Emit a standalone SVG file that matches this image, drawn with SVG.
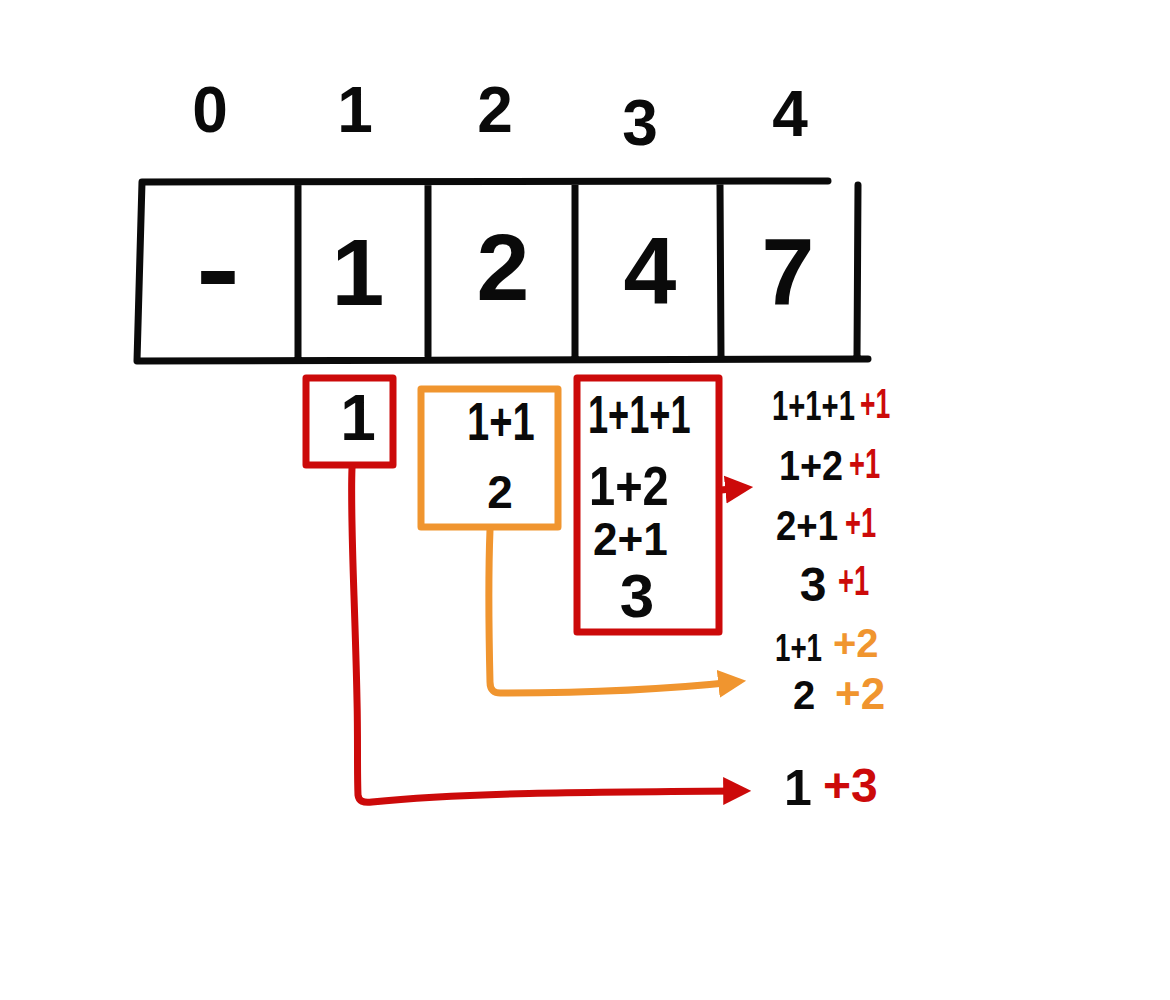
<svg xmlns="http://www.w3.org/2000/svg" width="1170" height="1000" viewBox="0 0 1170 1000">
<style>
text{font-family:"Liberation Sans","DejaVu Sans",sans-serif;font-weight:bold;}
.k{fill:#0a0a0a}
.r{fill:#cc0a0a}
.o{fill:#f0952f}
.ln{fill:none;stroke:#0a0a0a;stroke-width:7;stroke-linecap:round;stroke-linejoin:round}
.rb{fill:none;stroke:#cc0a0a;stroke-width:7;stroke-linejoin:round}
.ob{fill:none;stroke:#f0952f;stroke-width:7;stroke-linejoin:round}
.rc{fill:none;stroke:#cc0a0a;stroke-width:7;stroke-linecap:round;stroke-linejoin:round}
.oc{fill:none;stroke:#f0952f;stroke-width:7;stroke-linecap:round;stroke-linejoin:round}
</style>
<defs>
<marker id="ar" viewBox="0 0 10 10" refX="6" refY="5" markerWidth="4" markerHeight="4.5" orient="auto" markerUnits="strokeWidth"><path d="M0,0 L10,5 L0,10 Z" fill="#cc0a0a"/></marker>
<marker id="ao" viewBox="0 0 10 10" refX="6" refY="5" markerWidth="4" markerHeight="4.5" orient="auto" markerUnits="strokeWidth"><path d="M0,0 L10,5 L0,10 Z" fill="#f0952f"/></marker>
</defs>
<rect width="1170" height="1000" fill="#fff"/>
<g id="indices">
<text class="k" x="210" y="132" font-size="64" text-anchor="middle">0</text>
<text class="k" x="355" y="132" font-size="64" text-anchor="middle">1</text>
<text class="k" x="495" y="132" font-size="64" text-anchor="middle">2</text>
<text class="k" x="640" y="145" font-size="64" text-anchor="middle">3</text>
<text class="k" x="790" y="136" font-size="64" text-anchor="middle">4</text>
</g>
<g id="array">
<path class="ln" d="M142,182 L828,181 M858,185 L857,358 M137,361 L868,359 M142,182 L137,361 M298,183 L298,358 M428,184 L428,356 M575,184 L575,356 M720,184 L721,356"/>
<text class="k" font-size="110" text-anchor="middle" transform="translate(218,306) scale(1.2,1)">-</text>
<text class="k" x="358" y="305" font-size="95" text-anchor="middle">1</text>
<text class="k" x="503" y="300" font-size="95" text-anchor="middle">2</text>
<text class="k" x="650" y="303" font-size="95" text-anchor="middle">4</text>
<text class="k" x="788" y="305" font-size="95" text-anchor="middle">7</text>
</g>
<g id="box1">
<rect class="rb" x="306" y="378" width="87" height="87"/>
<text class="k" x="358" y="440" font-size="64" text-anchor="middle">1</text>
</g>
<g id="box2">
<rect class="ob" x="421" y="389" width="137" height="138"/>
<text class="k" font-size="54" transform="translate(467,440) scale(0.74,1)">1+1</text>
<text class="k" x="500" y="508" font-size="46" text-anchor="middle">2</text>
</g>
<g id="box3">
<rect class="rb" x="577" y="378" width="142" height="254"/>
<text class="k" font-size="54" transform="translate(588,433) scale(0.67,1)">1+1+1</text>
<text class="k" font-size="56" transform="translate(589,505) scale(0.84,1)">1+2</text>
<text class="k" font-size="46" transform="translate(593,555) scale(0.96,1)">2+1</text>
<text class="k" x="637" y="617" font-size="62" text-anchor="middle">3</text>
</g>
<g id="results">
<text class="k" font-size="43" transform="translate(772,420) scale(0.68,1)">1+1+1</text>
<text class="r" font-size="42" transform="translate(860,418) scale(0.63,1)">+1</text>
<text class="k" font-size="42" transform="translate(779,480) scale(0.9,1)">1+2</text>
<text class="r" font-size="42" transform="translate(849,478) scale(0.65,1)">+1</text>
<text class="k" font-size="43" transform="translate(776,540) scale(0.85,1)">2+1</text>
<text class="r" font-size="42" transform="translate(845,537) scale(0.65,1)">+1</text>
<text class="k" x="813" y="601" font-size="48" text-anchor="middle">3</text>
<text class="r" font-size="42" transform="translate(838,595) scale(0.65,1)">+1</text>
<text class="k" font-size="38" transform="translate(775,661) scale(0.73,1)">1+1</text>
<text class="o" x="833" y="657" font-size="40">+2</text>
<text class="k" x="804" y="709" font-size="40" text-anchor="middle">2</text>
<text class="o" x="835" y="709" font-size="44">+2</text>
<text class="k" x="798" y="805" font-size="50" text-anchor="middle">1</text>
<text class="r" x="823" y="802" font-size="48">+3</text>
</g>
<g id="connectors">
<path class="rc" d="M721,490 L742,488" marker-end="url(#ar)"/>
<path class="oc" d="M490,530 C488,580 489,640 490,682 Q490,694 502,693 C580,693 660,690 735,682" marker-end="url(#ao)"/>
<path class="rc" d="M352,468 C350,520 355,600 357,700 C358,740 357,770 358,795 Q359,804 372,802 C460,793 580,792 740,791" marker-end="url(#ar)"/>
</g>
</svg>
